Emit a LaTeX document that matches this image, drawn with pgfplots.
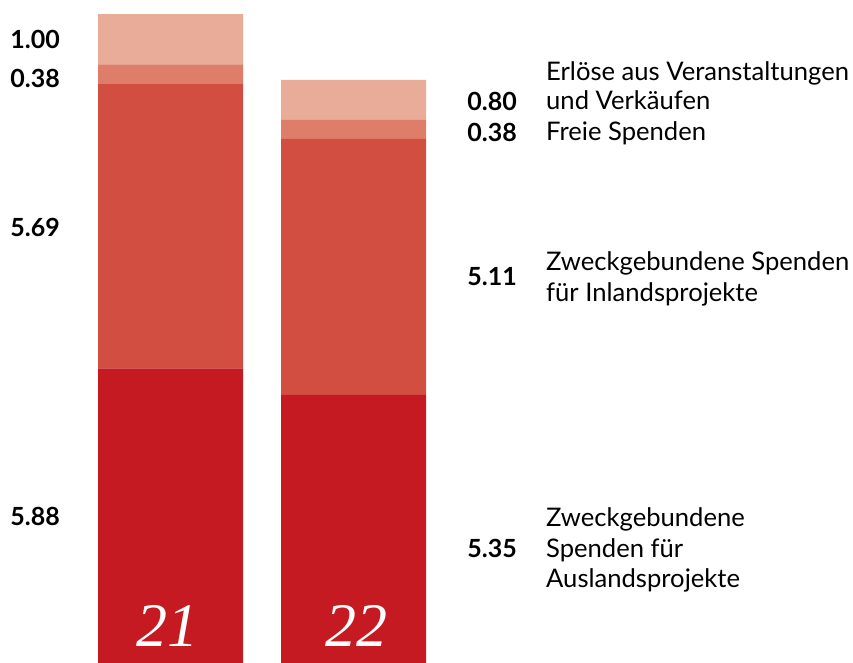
\documentclass[border=0pt]{standalone}
\usepackage{pgfplots}
\pgfplotsset{compat=1.18}
\usepackage{fontspec}
\setmainfont{Lato}
\newfontfamily\yearfont{Liberation Serif}
\definecolor{c1}{RGB}{198,26,34}
\definecolor{c2}{RGB}{210,78,64}
\definecolor{c3}{RGB}{222,125,106}
\definecolor{c4}{RGB}{232,172,152}
\begin{document}
\begin{tikzpicture}
\useasboundingbox (0,0) rectangle (853pt,663pt);
\begin{axis}[
  at={(0,0)}, anchor=south west,
  scale only axis, width=853pt, height=663pt,
  xmin=0, xmax=853, ymin=0, ymax=13.234,
  hide axis, ybar stacked, bar width=145pt, clip=false,
]
\addplot[fill=c1, draw=none] coordinates {(170.5,5.88) (353.5,5.35)};
\addplot[fill=c2, draw=none] coordinates {(170.5,5.69) (353.5,5.11)};
\addplot[fill=c3, draw=none] coordinates {(170.5,0.38) (353.5,0.38)};
\addplot[fill=c4, draw=none] coordinates {(170.5,1.00) (353.5,0.80)};
\end{axis}
\tikzset{num/.style={inner sep=0pt, anchor=base east, font=\fontsize{25}{29}\selectfont\bfseries},
         txt/.style={inner sep=0pt, anchor=base west, font=\fontsize{25.6}{29}\selectfont},
         yr/.style={inner sep=0pt, anchor=base, text=white, font=\fontsize{62}{62}\selectfont\yearfont\itshape}}
% left numbers
\node[num] at (60pt,614pt) {1.00};
\node[num] at (60pt,575pt) {0.38};
\node[num] at (60pt,426pt) {5.69};
\node[num] at (60pt,137pt) {5.88};
% right numbers
\node[num] at (517pt,552pt) {0.80};
\node[num] at (517pt,521pt) {0.38};
\node[num] at (517pt,377pt) {5.11};
\node[num] at (517pt,105pt) {5.35};
% text labels
\node[txt] at (546pt,582pt) {Erlöse aus Veranstaltungen};
\node[txt] at (546pt,553pt) {und Verkäufen};
\node[txt] at (546pt,522pt) {Freie Spenden};
\node[txt] at (546pt,392pt) {Zweckgebundene Spenden};
\node[txt] at (546pt,361pt) {für Inlandsprojekte};
\node[txt] at (546pt,136pt) {Zweckgebundene};
\node[txt] at (546pt,105pt) {Spenden für};
\node[txt] at (546pt,75pt) {Auslandsprojekte};
% years
\node[yr] at (167pt,16pt) {21};
\node[yr] at (356pt,16pt) {22};
\end{tikzpicture}
\end{document}
